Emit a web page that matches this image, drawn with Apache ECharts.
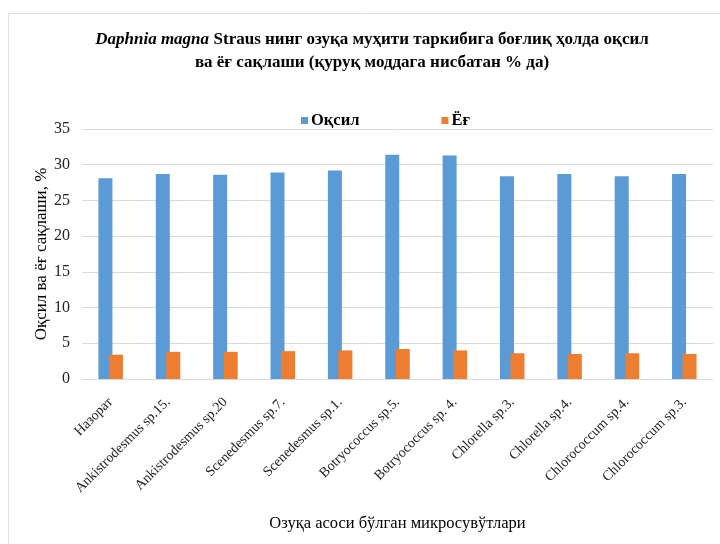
<!DOCTYPE html>
<html><head><meta charset="utf-8">
<script src="https://cdn.jsdelivr.net/npm/echarts@6/dist/echarts.min.js"></script>
<style>html,body{margin:0;padding:0;background:#fff}#c{width:720px;height:544px}</style>
</head><body><div id="c"></div>
<script>
const categories = ['Назорат','Ankistrodesmus sp.15.','Ankistrodesmus sp.20','Scenedesmus sp.7.','Scenedesmus sp.1.','Botryococcus sp.5.','Botryococcus sp. 4.','Chlorella sp.3.','Chlorella sp.4.','Chlorococcum sp.4.','Chlorococcum sp.3.'];
const protein = [28.1, 28.7, 28.6, 28.9, 29.2, 31.4, 31.3, 28.4, 28.7, 28.4, 28.7];
const fat = [3.4, 3.8, 3.8, 3.9, 4.0, 4.2, 4.0, 3.6, 3.5, 3.6, 3.5];
const seriesNames = ['Оқсил', 'Ёғ'];
const yTicks = {min: 0, max: 35, interval: 5};

const F = 'Liberation Serif';
const chart = echarts.init(document.getElementById('c'));
chart.setOption({
  animation: false,
  textStyle: {fontFamily: F},
  title: {
    text: '{i|Daphnia magna} {b|Straus нинг озуқа муҳити таркибига боғлиқ ҳолда оқсил}\n{b|ва ёғ сақлаши (қуруқ моддага нисбатан % да)}',
    left: 367, top: 23, textAlign: 'center',
    textStyle: {
      rich: {
        i: {fontFamily: F, fontStyle: 'italic', fontWeight: 'bold', fontSize: 17, color: '#000', lineHeight: 23},
        b: {fontFamily: F, fontWeight: 'bold', fontSize: 17, color: '#000', lineHeight: 23}
      }
    }
  },
  legend: {
    data: seriesNames,
    left: 296, top: 107, itemGap: 82,
    itemWidth: 7, itemHeight: 7, icon: 'rect',
    textStyle: {fontFamily: F, fontWeight: 'bold', fontSize: 16.5, color: '#000', padding: [0,0,0,-2]}
  },
  grid: {left: 82, right: 7, top: 129, bottom: 165},
  xAxis: {
    type: 'category', data: categories,
    name: 'Озуқа асоси бўлган микросувўтлари',
    nameLocation: 'middle', nameGap: 136,
    nameTextStyle: {fontFamily: F, fontSize: 16.5, color: '#000'},
    axisTick: {show: false},
    axisLine: {lineStyle: {color: '#d9d9d9'}},
    axisLabel: {rotate: 45, fontFamily: F, fontSize: 14, color: '#222', interval: 0, margin: 21}
  },
  yAxis: {
    type: 'value', min: yTicks.min, max: yTicks.max, interval: yTicks.interval,
    name: 'Оқсил ва ёғ сақлаши, %',
    nameLocation: 'middle', nameGap: 32, nameRotate: 90, nameMoveOverlap: false,
    nameTextStyle: {fontFamily: F, fontSize: 17, color: '#000'},
    axisLine: {show: false}, axisTick: {show: false},
    axisLabel: {fontFamily: F, fontSize: 16, color: '#222', margin: 12},
    splitLine: {lineStyle: {color: '#d9d9d9'}}
  },
  graphic: [{
    type: 'rect', shape: {x: 8.5, y: 13.5, width: 760, height: 600},
    style: {fill: null, stroke: '#e0e0e0', lineWidth: 1}, silent: true, z: -1
  }],
  series: [
    {name: seriesNames[0], type: 'bar', data: protein, barWidth: 14, barGap: '-25%', itemStyle: {color: '#5B9BD5'}},
    {name: seriesNames[1], type: 'bar', data: fat, barWidth: 14, itemStyle: {color: '#ED7D31'}}
  ]
});
</script></body></html>
